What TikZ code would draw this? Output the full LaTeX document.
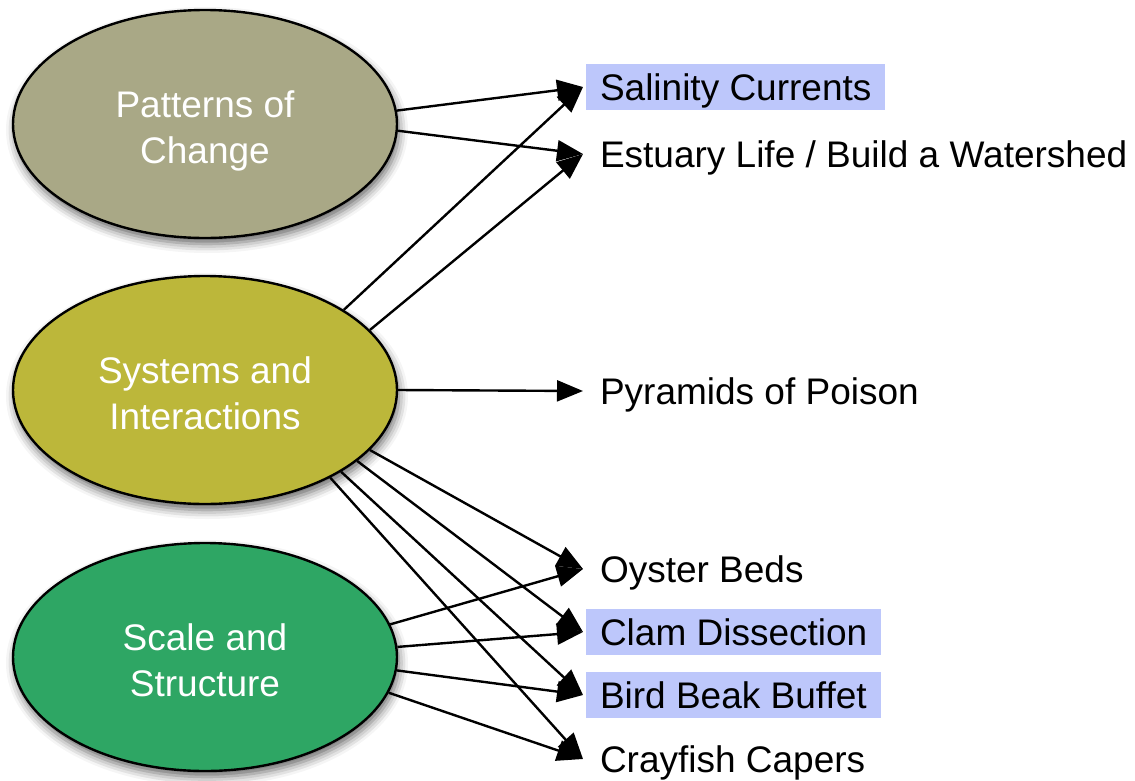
\documentclass[tikz,border=0pt]{standalone}
\usepackage{fontspec}
\setmainfont{Liberation Sans}
\usetikzlibrary{shapes.geometric,arrows.meta,shadows.blur}
\definecolor{changeC}{HTML}{A9A886}
\definecolor{systemsC}{HTML}{BCB73A}
\definecolor{scaleC}{HTML}{2EA664}
\definecolor{hiliteC}{HTML}{BDC7FB}

\begin{document}
\begin{tikzpicture}[x=1pt, y=-1pt,
    every node/.style={font=\fontsize{37}{46}\selectfont},
    theme/.style={ellipse, draw=black, line width=2.4pt, minimum width=384pt,
                  minimum height=228pt, inner sep=0pt, align=center, text=white,
                  text height=78pt, text depth=0pt,
                  blur shadow={shadow xshift=2pt, shadow yshift=-6pt,
                               shadow blur radius=9pt, shadow opacity=60}},
    act/.style={anchor=west, inner xsep=14pt, inner ysep=0pt, text height=26.5pt,
                text depth=0pt, minimum height=46pt, outer sep=3pt},
    hl/.style={act, fill=hiliteC},
    link/.style={-{Triangle[length=26pt, width=21pt]}, line width=2.4pt},
  ]
  \useasboundingbox (0,0) rectangle (1135,780);

  % the three themes
  \node[theme, fill=changeC]  (pc) at (205,124) {Patterns of\\Change};
  \node[theme, fill=systemsC] (si) at (205,390) {Systems and\\Interactions};
  \node[theme, fill=scaleC]   (ss) at (205,657) {Scale and\\Structure};

  % the activities
  \node[hl]  (sal)  at (583,87)  {Salinity Currents};
  \node[act] (est)  at (583,154) {Estuary Life / Build a Watershed};
  \node[act] (pyr)  at (583,391) {Pyramids of Poison};
  \node[act] (oys)  at (583,569) {Oyster Beds};
  \node[hl]  (clam) at (583,632) {Clam Dissection};
  \node[hl]  (bird) at (583,695) {Bird Beak Buffet};
  \node[act] (cray) at (583,759) {Crayfish Capers};

  % theme -> activity
  \draw[link] (pc.4)   -- (sal.west);
  \draw[link] (pc.-2)  -- (est.west);
  \draw[link] (si.30)  -- (sal.west);
  \draw[link] (si.20)  -- (est.west);
  \draw[link] (si.0)   -- (pyr.west);
  \draw[link] (si.-20) -- (oys.west);
  \draw[link] (si.-25) -- (clam.west);
  \draw[link] (si.-31) -- (bird.west);
  \draw[link] (si.-35) -- (cray.west);
  \draw[link] (ss.10)  -- (oys.west);
  \draw[link] (ss.3)   -- (clam.west);
  \draw[link] (ss.-4)  -- (bird.west);
  \draw[link] (ss.-11) -- (cray.west);
\end{tikzpicture}
\end{document}
